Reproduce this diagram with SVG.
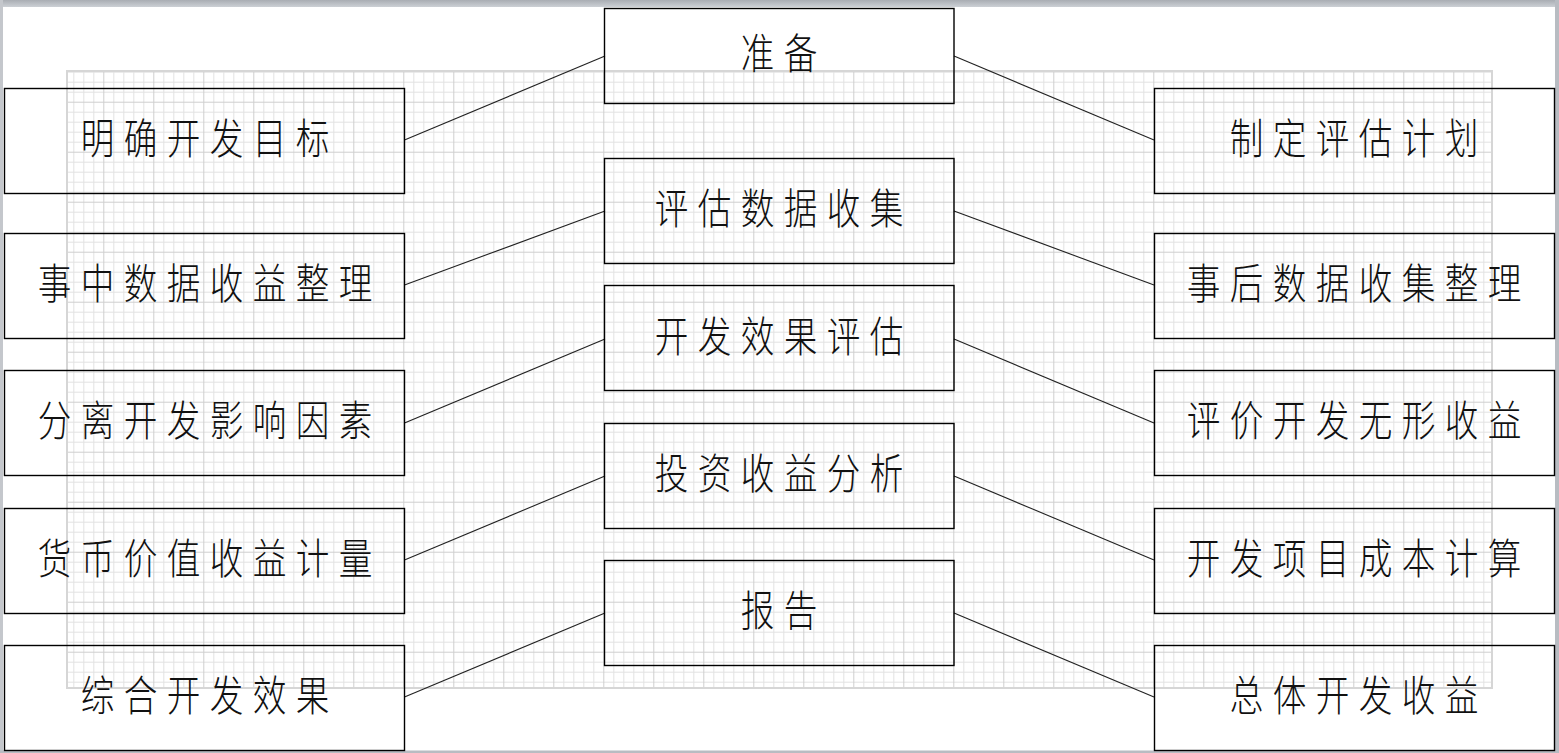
<svg xmlns="http://www.w3.org/2000/svg" width="1559" height="753" viewBox="0 0 1559 753">
<style>
.box{fill:none;stroke:#000;stroke-width:1.4}
.t{font-family:"Noto Sans CJK SC","Noto Sans",sans-serif;font-size:42px;font-weight:300;letter-spacing:11.75px;text-anchor:middle;fill:#111}
.conn line{stroke:#222;stroke-width:1.1}
.minor{stroke:#e2e2e2;stroke-width:1}
.major{stroke:#cfcfcf;stroke-width:1}
</style>
<defs>
<pattern id="grid" patternUnits="userSpaceOnUse" x="3.3" y="1.7" width="50" height="50">
<path class="minor" d="M10.5 0V50M20.5 0V50M30.5 0V50M40.5 0V50M0 10.5H50M0 20.5H50M0 30.5H50M0 40.5H50"/>
<path class="major" d="M0.5 0V50M0 0.5H50"/>
</pattern>
<linearGradient id="topbar" x1="0" y1="0" x2="0" y2="1">
<stop offset="0" stop-color="#a9adb3"/>
<stop offset="1" stop-color="#ccd0d5"/>
</linearGradient>
</defs>
<rect x="0" y="0" width="1559" height="753" fill="#fff"/>
<g id="background">
<rect x="67" y="71" width="1425" height="617" fill="url(#grid)" stroke="#d6d6d6" stroke-width="2"/>
<rect x="0" y="0" width="1559" height="7" fill="url(#topbar)"/>
<rect x="0" y="0" width="3" height="753" fill="#c4c7cc"/>
<rect x="1555" y="0" width="4" height="753" fill="#b8bcc2"/>
<rect x="0" y="750.5" width="1559" height="2.5" fill="#b8bcc2"/>
</g>
<g id="connectors" class="conn">
<line x1="404.5" y1="140" x2="605" y2="56"/>
<line x1="404.5" y1="285" x2="605" y2="211"/>
<line x1="404.5" y1="423" x2="605" y2="339"/>
<line x1="404.5" y1="560" x2="605" y2="476"/>
<line x1="404.5" y1="697" x2="605" y2="613"/>
<line x1="954" y1="56" x2="1154" y2="140"/>
<line x1="954" y1="211" x2="1154" y2="285"/>
<line x1="954" y1="339" x2="1154" y2="423"/>
<line x1="954" y1="476" x2="1154" y2="560"/>
<line x1="954" y1="613" x2="1154" y2="697"/>
</g>
<g id="n-mingque"><rect class="box" x="4.5" y="88.5" width="400" height="105"/><text class="t" transform="translate(205,154) scale(0.8,1)" x="5.9">明确开发目标</text></g>
<g id="n-shizhong"><rect class="box" x="4.5" y="233.5" width="400" height="105"/><text class="t" transform="translate(205,299) scale(0.8,1)" x="5.9">事中数据收益整理</text></g>
<g id="n-fenli"><rect class="box" x="4.5" y="370.5" width="400" height="105"/><text class="t" transform="translate(205,436) scale(0.8,1)" x="5.9">分离开发影响因素</text></g>
<g id="n-huobi"><rect class="box" x="4.5" y="508.5" width="400" height="105"/><text class="t" transform="translate(205,574) scale(0.8,1)" x="5.9">货币价值收益计量</text></g>
<g id="n-zonghe"><rect class="box" x="4.5" y="645.5" width="400" height="105"/><text class="t" transform="translate(205,711) scale(0.8,1)" x="5.9">综合开发效果</text></g>
<g id="n-zhunbei"><rect class="box" x="604.5" y="8.5" width="349.5" height="95"/><text class="t" transform="translate(779,69) scale(0.8,1)" x="5.9">准备</text></g>
<g id="n-pinggu"><rect class="box" x="604.5" y="158.5" width="349.5" height="105"/><text class="t" transform="translate(779,224) scale(0.8,1)" x="5.9">评估数据收集</text></g>
<g id="n-xiaoguo"><rect class="box" x="604.5" y="285.5" width="349.5" height="105"/><text class="t" transform="translate(779,351.5) scale(0.8,1)" x="5.9">开发效果评估</text></g>
<g id="n-touzi"><rect class="box" x="604.5" y="423.5" width="349.5" height="105"/><text class="t" transform="translate(779,488.5) scale(0.8,1)" x="5.9">投资收益分析</text></g>
<g id="n-baogao"><rect class="box" x="604.5" y="560.5" width="349.5" height="105"/><text class="t" transform="translate(779,626) scale(0.8,1)" x="5.9">报告</text></g>
<g id="n-zhiding"><rect class="box" x="1154.5" y="88.5" width="400" height="105"/><text class="t" transform="translate(1354,154) scale(0.8,1)" x="5.9">制定评估计划</text></g>
<g id="n-shihou"><rect class="box" x="1154.5" y="233.5" width="400" height="105"/><text class="t" transform="translate(1354,299) scale(0.8,1)" x="5.9">事后数据收集整理</text></g>
<g id="n-pingjia"><rect class="box" x="1154.5" y="370.5" width="400" height="105"/><text class="t" transform="translate(1354,436) scale(0.8,1)" x="5.9">评价开发无形收益</text></g>
<g id="n-chengben"><rect class="box" x="1154.5" y="508.5" width="400" height="105"/><text class="t" transform="translate(1354,574) scale(0.8,1)" x="5.9">开发项目成本计算</text></g>
<g id="n-zongti"><rect class="box" x="1154.5" y="645.5" width="400" height="105"/><text class="t" transform="translate(1354,711) scale(0.8,1)" x="5.9">总体开发收益</text></g>
</svg>
